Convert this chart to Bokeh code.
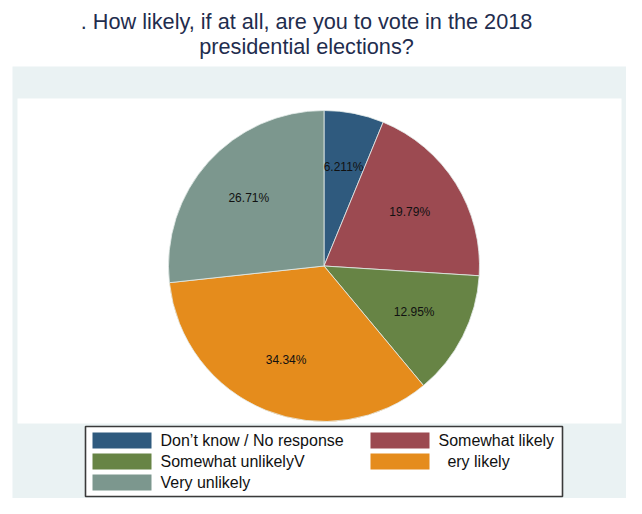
import math
from bokeh.plotting import figure
from bokeh.models import Range1d, ColumnDataSource
from bokeh.core.properties import value
from bokeh.embed import file_html
from bokeh.resources import INLINE

# ---- data ----
title_lines = [". How likely, if at all, are you to vote in the 2018", "presidential elections?"]
categories = ["Don\u2019t know / No response", "Somewhat likely", "Somewhat unlikely",
              "Very likely", "Very unlikely"]
legend_labels = ["Don\u2019t know / No response", "Somewhat likely", "Somewhat unlikelyV",
                 "\u00a0\u00a0ery likely", "Very unlikely"]
percents = [6.211, 19.79, 12.95, 34.34, 26.71]
pct_labels = ["6.211%", "19.79%", "12.95%", "34.34%", "26.71%"]
colors = ["#2f5a7e", "#9c4a51", "#678445", "#e58c1c", "#7c978e"]

# ---- page geometry (data units == pixels, y measured upward) ----
W, H = 626, 498
IMG_H = 514


def iy(y):
    """convert a top-down page y to data y"""
    return IMG_H - y


p = figure(width=W, height=H, output_backend="svg", toolbar_location=None,
           x_range=Range1d(0, W), y_range=Range1d(IMG_H - H, IMG_H),
           min_border=0, background_fill_color="white", border_fill_color="white")
p.outline_line_color = None
p.axis.visible = False
p.grid.visible = False

# background panels
p.quad(left=[12], right=[640], top=[iy(66)], bottom=[iy(520)],
       fill_color="#eaf2f3", line_color=None)
p.quad(left=[17], right=[621], top=[iy(98)], bottom=[iy(423)],
       fill_color="white", line_color=None)

# title
p.text(x=[306, 306], y=[iy(21), iy(46)], text=title_lines,
       text_font=value("Liberation Sans"), text_font_size="21.7px",
       text_color="#1f2d4e", text_align="center", text_baseline="middle")

# pie
cx, cy, r = 323.5, iy(265.5), 155.5
total = sum(percents)
starts, ends, lx, ly = [], [], [], []
cum = 0.0
for v in percents:
    a0 = math.pi / 2 - 2 * math.pi * cum / total
    cum += v
    a1 = math.pi / 2 - 2 * math.pi * cum / total
    starts.append(a0)
    ends.append(a1)
    mid = (a0 + a1) / 2
    lx.append(cx + 0.65 * r * math.cos(mid))
    ly.append(cy + 0.65 * r * math.sin(mid))

src = ColumnDataSource(dict(start=starts, end=ends, color=colors, cat=categories,
                            lx=lx, ly=ly, lab=pct_labels))
p.wedge(x=cx, y=cy, radius=r, start_angle="start", end_angle="end", direction="clock",
        fill_color="color", line_color="#e4ecea", line_width=0.8, source=src)
p.text(x="lx", y="ly", text="lab", source=src, text_font=value("Liberation Sans"),
       text_font_size="12px", text_color="#111111", text_align="center",
       text_baseline="middle")

# legend (manual, 2 columns, row-major)
lg_left, lg_right, lg_top, lg_bottom = 85, 562, 426, 496
p.quad(left=[lg_left], right=[lg_right], top=[iy(lg_top)], bottom=[iy(lg_bottom)],
       fill_color="white", line_color="#3a3a3a", line_width=1.6)
sw_l, sw_r, tx = [], [], []
sw_t, sw_b, ty = [], [], []
col_x = [92, 370]
row_y = [440, 461, 482]
for i in range(len(legend_labels)):
    c, rw = i % 2, i // 2
    sw_l.append(col_x[c])
    sw_r.append(col_x[c] + 59)
    tx.append(col_x[c] + 68)
    sw_t.append(iy(row_y[rw] - 8))
    sw_b.append(iy(row_y[rw] + 8))
    ty.append(iy(row_y[rw]))
p.quad(left=sw_l, right=sw_r, top=sw_t, bottom=sw_b, fill_color=colors, line_color=None)
p.text(x=tx, y=ty, text=legend_labels, text_font=value("Liberation Sans"),
       text_font_size="16px", text_color="#111111", text_align="left",
       text_baseline="middle")

open("out.html", "w").write(file_html(p, INLINE))
